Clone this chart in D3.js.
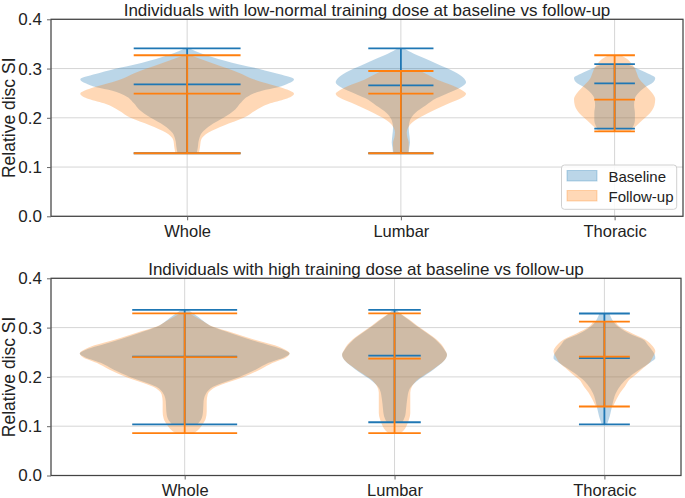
<!DOCTYPE html>
<html>
<head>
<meta charset="utf-8">
<script src="https://cdn.jsdelivr.net/npm/d3@7"></script>
<style>
  html, body { margin: 0; padding: 0; background: #fff; }
  svg { display: block; }
  text { font-family: "Liberation Sans", Arial, sans-serif; fill: #222; }
</style>
</head>
<body>
<svg id="chart" width="685" height="498"></svg>
<script>
// ---------------- DATA ----------------
const categories = ["Whole", "Lumbar", "Thoracic"];
const yTicks = [0.0, 0.1, 0.2, 0.3, 0.4];
const seriesNames = ["Baseline", "Follow-up"];
const titles = [
  "Individuals with low-normal training dose at baseline vs follow-up",
  "Individuals with high training dose at baseline vs follow-up"
];
const yLabel = "Relative disc SI";

// violin widths (matplotlib 'widths' per category)
const lowWidths = [1.0, 0.61, 0.38];
const highWidths = [1.0, 0.5, 0.485];

// extrema and means: panel 1 (low-normal)
const lowBaselineMin = [0.128, 0.128, 0.178];
const lowBaselineMean = [0.268, 0.266, 0.270];
const lowBaselineMax = [0.341, 0.341, 0.309];
const lowFollowMin = [0.128, 0.128, 0.1725];
const lowFollowMean = [0.249, 0.249, 0.237];
const lowFollowMax = [0.327, 0.295, 0.327];
// panel 2 (high)
const highBaselineMin = [0.1035, 0.108, 0.1035];
const highBaselineMean = [0.241, 0.243, 0.238];
const highBaselineMax = [0.336, 0.336, 0.3286];
const highFollowMin = [0.086, 0.086, 0.140];
const highFollowMean = [0.240, 0.237, 0.241];
const highFollowMax = [0.329, 0.329, 0.312];

// density profiles [value, relative density]
const lowWholeBaselineKde = [[0.128,0.09],[0.14,0.10],[0.155,0.11],[0.17,0.14],[0.185,0.22],[0.2,0.34],[0.217,0.45],[0.23,0.5],[0.245,0.58],[0.255,0.7],[0.262,0.85],[0.27,0.95],[0.278,1.0],[0.291,0.82],[0.302,0.62],[0.312,0.42],[0.327,0.18],[0.335,0.08],[0.341,0.02]];
const lowWholeFollowKde = [[0.128,0.11],[0.14,0.12],[0.155,0.13],[0.17,0.2],[0.185,0.35],[0.2,0.53],[0.215,0.64],[0.228,0.76],[0.238,0.92],[0.249,1.0],[0.26,0.9],[0.27,0.74],[0.28,0.6],[0.29,0.5],[0.3,0.38],[0.31,0.25],[0.32,0.12],[0.327,0.03]];
const lowLumbarBaselineKde = [[0.128,0.12],[0.14,0.13],[0.15,0.14],[0.165,0.13],[0.18,0.12],[0.195,0.14],[0.21,0.22],[0.225,0.38],[0.24,0.55],[0.25,0.72],[0.262,0.92],[0.272,1.0],[0.28,0.97],[0.29,0.87],[0.3,0.72],[0.31,0.55],[0.32,0.38],[0.33,0.2],[0.341,0.04]];
const lowLumbarFollowKde = [[0.128,0.11],[0.14,0.12],[0.15,0.12],[0.16,0.1],[0.17,0.09],[0.18,0.11],[0.19,0.17],[0.2,0.28],[0.21,0.42],[0.22,0.58],[0.23,0.75],[0.24,0.93],[0.249,1.0],[0.255,0.95],[0.265,0.8],[0.275,0.6],[0.285,0.45],[0.295,0.3]];
const lowThoracicBaselineKde = [[0.178,0.42],[0.185,0.47],[0.195,0.5],[0.21,0.5],[0.225,0.48],[0.24,0.5],[0.25,0.58],[0.262,0.75],[0.272,0.95],[0.281,1.0],[0.29,0.82],[0.3,0.55],[0.309,0.3]];
const lowThoracicFollowKde = [[0.1725,0.38],[0.185,0.55],[0.195,0.68],[0.205,0.82],[0.215,0.92],[0.225,0.98],[0.238,1.0],[0.25,0.93],[0.26,0.82],[0.27,0.7],[0.28,0.6],[0.29,0.55],[0.3,0.5],[0.31,0.42],[0.32,0.3],[0.327,0.15]];
const highWholeBaselineKde = [[0.1035,0.12],[0.115,0.16],[0.13,0.175],[0.15,0.18],[0.165,0.2],[0.18,0.27],[0.2,0.52],[0.215,0.68],[0.2285,0.8],[0.24,0.95],[0.247,1.0],[0.255,0.94],[0.262,0.84],[0.276,0.62],[0.29,0.42],[0.301,0.27],[0.31,0.2],[0.323,0.12],[0.336,0.03]];
const highWholeFollowKde = [[0.086,0.09],[0.095,0.14],[0.1035,0.17],[0.115,0.2],[0.13,0.21],[0.15,0.21],[0.165,0.22],[0.18,0.3],[0.2,0.56],[0.215,0.72],[0.2285,0.84],[0.24,0.97],[0.248,1.0],[0.256,0.95],[0.264,0.86],[0.276,0.66],[0.29,0.45],[0.301,0.28],[0.315,0.16],[0.329,0.04]];
const highLumbarBaselineKde = [[0.108,0.15],[0.12,0.2],[0.135,0.22],[0.154,0.24],[0.174,0.28],[0.185,0.36],[0.195,0.47],[0.21,0.68],[0.222,0.83],[0.235,0.96],[0.245,1.0],[0.255,0.95],[0.265,0.88],[0.276,0.78],[0.29,0.6],[0.301,0.45],[0.315,0.28],[0.325,0.15],[0.336,0.03]];
const highLumbarFollowKde = [[0.086,0.12],[0.095,0.2],[0.1035,0.24],[0.115,0.28],[0.127,0.3],[0.15,0.3],[0.168,0.3],[0.18,0.33],[0.195,0.45],[0.21,0.66],[0.222,0.82],[0.235,0.96],[0.245,1.0],[0.255,0.96],[0.265,0.9],[0.276,0.8],[0.29,0.62],[0.301,0.47],[0.315,0.3],[0.329,0.1]];
const highThoracicBaselineKde = [[0.1035,0.05],[0.115,0.09],[0.127,0.12],[0.145,0.16],[0.161,0.2],[0.18,0.3],[0.195,0.43],[0.21,0.62],[0.222,0.8],[0.232,0.94],[0.238,1.0],[0.245,0.99],[0.252,0.95],[0.265,0.85],[0.276,0.76],[0.285,0.55],[0.301,0.28],[0.315,0.16],[0.3286,0.1]];
const highThoracicFollowKde = [[0.14,0.17],[0.155,0.24],[0.168,0.31],[0.18,0.4],[0.195,0.5],[0.205,0.62],[0.215,0.73],[0.228,0.88],[0.24,0.95],[0.252,1.0],[0.262,0.95],[0.276,0.8],[0.288,0.55],[0.301,0.31],[0.312,0.22]];

// ---------------- CONFIG ----------------
const colors = ["#1f77b4", "#ff7f0e"];
const panels = [
  { top: 19.3, bottom: 216.3, left: 51, right: 683, xDomain: [0.363, 3.32], title: titles[0], widths: lowWidths, legend: true,
    series: [
      { min: lowBaselineMin, mean: lowBaselineMean, max: lowBaselineMax, kde: [lowWholeBaselineKde, lowLumbarBaselineKde, lowThoracicBaselineKde] },
      { min: lowFollowMin, mean: lowFollowMean, max: lowFollowMax, kde: [lowWholeFollowKde, lowLumbarFollowKde, lowThoracicFollowKde] }
    ] },
  { top: 278.3, bottom: 475.5, left: 51, right: 681, xDomain: [0.363, 3.365], title: titles[1], widths: highWidths, legend: false,
    series: [
      { min: highBaselineMin, mean: highBaselineMean, max: highBaselineMax, kde: [highWholeBaselineKde, highLumbarBaselineKde, highThoracicBaselineKde] },
      { min: highFollowMin, mean: highFollowMean, max: highFollowMax, kde: [highWholeFollowKde, highLumbarFollowKde, highThoracicFollowKde] }
    ] }
];

const svg = d3.select("#chart");
const FS = 16.5;

panels.forEach(p => {
  const x = d3.scaleLinear().domain(p.xDomain).range([p.left, p.right]);
  const y = d3.scaleLinear().domain([0, 0.4]).range([p.bottom, p.top]);
  const g = svg.append("g");

  // grid
  g.append("g").selectAll("line").data(yTicks).join("line")
    .attr("x1", p.left).attr("x2", p.right)
    .attr("y1", d => y(d)).attr("y2", d => y(d))
    .attr("stroke", "#d6d6d6").attr("stroke-width", 1);
  g.append("g").selectAll("line").data(categories).join("line")
    .attr("x1", (d, i) => x(i + 1)).attr("x2", (d, i) => x(i + 1))
    .attr("y1", p.top).attr("y2", p.bottom)
    .attr("stroke", "#d6d6d6").attr("stroke-width", 1);

  // bodies
  p.series.forEach((s, si) => {
    s.kde.forEach((prof, ci) => {
      const pos = ci + 1;
      const half = p.widths[ci] / 2;
      const area = d3.area()
        .curve(d3.curveMonotoneY)
        .y(d => y(d[0]))
        .x0(d => x(pos - d[1] * half))
        .x1(d => x(pos + d[1] * half));
      g.append("path").datum(prof)
        .attr("d", area)
        .attr("fill", colors[si]).attr("fill-opacity", 0.3);
    });
  });

  // lines
  p.series.forEach((s, si) => {
    const lg = g.append("g").attr("stroke", colors[si]).attr("stroke-width", 1.8);
    categories.forEach((c, ci) => {
      const pos = ci + 1;
      const cap = p.widths[ci] / 4;
      [s.min[ci], s.mean[ci], s.max[ci]].forEach(v => {
        lg.append("line")
          .attr("x1", x(pos - cap)).attr("x2", x(pos + cap))
          .attr("y1", y(v)).attr("y2", y(v));
      });
      lg.append("line")
        .attr("x1", x(pos)).attr("x2", x(pos))
        .attr("y1", y(s.min[ci])).attr("y2", y(s.max[ci]));
    });
  });

  // frame
  g.append("rect")
    .attr("x", p.left).attr("y", p.top)
    .attr("width", p.right - p.left).attr("height", p.bottom - p.top)
    .attr("fill", "none").attr("stroke", "#444").attr("stroke-width", 1.25);

  // axes ticks
  const yAxis = d3.axisLeft(y).tickValues(yTicks).tickFormat(d3.format(".1f")).tickSize(4).tickPadding(5);
  const ya = g.append("g").attr("transform", `translate(${p.left},0)`).call(yAxis);
  ya.select(".domain").remove();
  ya.selectAll(".tick line").attr("stroke", "#666");
  ya.selectAll(".tick text").attr("font-size", 17).attr("font-family", "Liberation Sans, Arial, sans-serif").attr("fill", "#222");

  const xAxis = d3.axisBottom(x).tickValues([1, 2, 3]).tickFormat((d) => categories[d - 1]).tickSize(4).tickPadding(4.5);
  const xa = g.append("g").attr("transform", `translate(0,${p.bottom})`).call(xAxis);
  xa.select(".domain").remove();
  xa.selectAll(".tick line").attr("stroke", "#666");
  xa.selectAll(".tick text").attr("font-size", FS).attr("font-family", "Liberation Sans, Arial, sans-serif").attr("fill", "#222");

  // title
  g.append("text")
    .attr("x", (p.left + p.right) / 2).attr("y", p.top - 3.5)
    .attr("text-anchor", "middle").attr("font-size", 17)
    .text(p.title);

  // y label
  g.append("text")
    .attr("transform", `translate(15,${(p.top + p.bottom) / 2}) rotate(-90)`)
    .attr("text-anchor", "middle").attr("font-size", 17.5)
    .text(yLabel);

  // legend
  if (p.legend) {
    const lx = 561.5, ly = 165, lw = 115.2, lh = 44.3;
    const leg = g.append("g");
    leg.append("rect").attr("x", lx).attr("y", ly).attr("width", lw).attr("height", lh)
      .attr("rx", 3).attr("fill", "#fff").attr("fill-opacity", 0.85)
      .attr("stroke", "#d0d0d0").attr("stroke-width", 1);
    seriesNames.forEach((n, i) => {
      const ry = ly + 5.5 + i * 20;
      leg.append("rect").attr("x", lx + 5.5).attr("y", ry).attr("width", 30).attr("height", 10.5)
        .attr("fill", colors[i]).attr("fill-opacity", 0.3)
        .attr("stroke", colors[i]).attr("stroke-opacity", 0.3);
      leg.append("text").attr("x", lx + 47).attr("y", ry + 11)
        .attr("font-size", 15).text(n);
    });
  }
});
</script>
</body>
</html>
